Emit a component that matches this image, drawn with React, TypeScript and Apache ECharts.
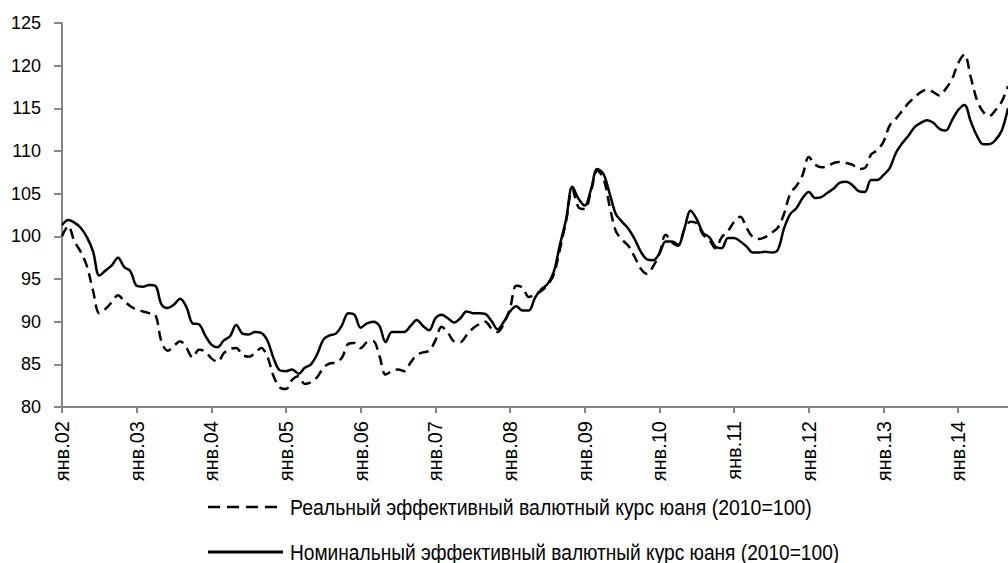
import React, { useEffect, useRef } from "react";
import * as echarts from "echarts";

const yearLabels = ["янв.02", "янв.03", "янв.04", "янв.05", "янв.06", "янв.07", "янв.08", "янв.09", "янв.10", "янв.11", "янв.12", "янв.13", "янв.14"];
const monthNames = ["янв", "фев", "мар", "апр", "май", "июн", "июл", "авг", "сен", "окт", "ноя", "дек"];

const realRate = [
  100.0, 101.2, 99.4, 98.2, 96.5, 93.6, 91.0, 91.5, 92.3, 93.1, 92.4, 91.8,
  91.4, 91.2, 91.0, 90.8, 87.6, 86.6, 87.2, 87.7, 86.9, 85.8, 86.7, 86.5,
  85.7, 85.3, 86.3, 86.8, 86.9, 86.1, 85.9, 86.3, 86.9, 85.9, 83.6, 82.3,
  82.1, 83.2, 83.6, 82.7, 82.9, 83.5, 84.6, 85.1, 85.2, 85.8, 87.4, 87.5,
  86.9, 87.6, 87.7, 86.0, 83.8, 84.2, 84.4, 84.2, 85.2, 86.1, 86.4, 86.6,
  87.8, 89.4, 88.7, 87.7, 87.6, 88.4, 89.2, 89.7, 90.0, 89.2, 88.8, 89.8,
  91.6, 94.2, 94.0, 92.9, 93.2, 93.6, 94.3, 95.5, 98.5, 101.8, 105.5, 103.4,
  103.2, 105.3, 107.7, 106.8, 103.5, 100.6, 99.6, 98.9, 97.6, 96.2, 95.6, 96.5,
  98.0, 100.2, 99.3, 98.9, 100.8, 101.7, 101.5, 100.2, 99.6, 98.6, 99.9, 100.6,
  101.7, 102.3, 101.0, 99.9, 99.7, 99.9, 100.4, 101.0, 102.6, 105.0, 105.9, 107.2,
  109.3, 108.4, 108.1, 108.2, 108.6, 108.7, 108.6, 108.4, 107.9, 108.0, 109.6, 110.1,
  111.1, 113.0, 113.8, 114.7, 115.6, 116.3, 116.9, 117.2, 116.9, 116.5, 117.3, 118.4,
  120.3, 121.3, 118.7, 116.0, 114.6, 114.1, 114.8, 115.8, 117.6
];

const nominalRate = [
  101.3, 101.9, 101.6, 101.0, 99.9, 98.2, 95.4, 96.0, 96.6, 97.5, 96.4, 95.9,
  94.2, 94.1, 94.3, 94.2, 92.0, 91.6, 92.0, 92.7, 91.7, 89.8, 89.7, 88.4,
  87.3, 87.0, 87.8, 88.3, 89.6, 88.6, 88.5, 88.8, 88.7, 87.8, 85.7, 84.3,
  84.2, 84.4, 83.9, 84.6, 85.0, 86.2, 87.9, 88.4, 88.6, 89.6, 91.0, 90.8,
  89.3, 89.8, 90.0, 89.5, 87.6, 88.8, 88.8, 88.8, 89.5, 90.2, 89.5, 89.0,
  90.4, 90.8, 90.4, 89.9, 90.4, 91.2, 91.0, 91.0, 90.9, 90.1, 89.1, 90.0,
  91.2, 91.8, 91.3, 91.3, 92.8, 93.8, 94.4, 95.8, 99.0, 102.0, 105.8, 104.4,
  103.6, 105.5, 107.9, 107.3, 105.0, 102.6, 101.7, 100.9, 99.7, 98.2, 97.3, 97.2,
  98.0, 99.4, 99.4, 99.0, 100.9, 103.0, 102.0, 100.4, 99.9, 98.8, 98.6, 99.8,
  99.8, 99.4, 98.8, 98.1, 98.1, 98.2, 98.1, 98.4, 100.9, 102.6, 103.3, 104.5,
  105.2, 104.5, 104.6, 105.1, 105.6, 106.3, 106.4, 106.0, 105.3, 105.2, 106.6, 106.6,
  107.2, 108.0, 109.8, 110.9, 111.8, 112.8, 113.3, 113.6, 113.3, 112.6, 112.4, 113.6,
  114.8, 115.4, 113.5, 111.8, 110.8, 110.8, 111.3, 112.4, 115.0
];

const realName = "Реальный эффективный валютный курс юаня (2010=100)";
const nominalName = "Номинальный эффективный валютный курс юаня (2010=100)";

const categories: string[] = [];
yearLabels.forEach((yl) => {
  const yy = yl.slice(-2);
  monthNames.forEach((m) => categories.push(m + "." + yy));
});
categories.length = realRate.length;

const FONT = "'Liberation Sans', Arial, sans-serif";

export default function App() {
  const ref = useRef<HTMLDivElement>(null);
  useEffect(() => {
    if (!ref.current) return;
    const chart = echarts.init(ref.current, null, { renderer: "svg" });
    chart.setOption({
      animation: false,
      backgroundColor: "#ffffff",
      grid: { left: 62, right: 0, top: 23, bottom: 156, containLabel: false },
      xAxis: {
        type: "category",
        data: categories,
        boundaryGap: false,
        axisLine: { lineStyle: { color: "#868686", width: 2 } },
        axisTick: {
          show: true,
          length: 6,
          interval: (idx: number) => idx % 12 === 0,
          lineStyle: { color: "#868686", width: 2 },
        },
        axisLabel: {
          interval: (idx: number) => idx % 12 === 0,
          rotate: 90,
          margin: 14,
          fontSize: 20,
          fontFamily: FONT,
          color: "#000",
        },
        splitLine: { show: false },
      },
      yAxis: {
        type: "value",
        min: 80,
        max: 125,
        interval: 5,
        axisLine: { show: true, lineStyle: { color: "#868686", width: 2 } },
        axisTick: { show: true, length: 8, lineStyle: { color: "#868686", width: 2 } },
        axisLabel: { margin: 21, fontSize: 18, fontFamily: FONT, color: "#000" },
        splitLine: { show: false },
      },
      series: [
        {
          name: realName,
          type: "line",
          data: realRate,
          smooth: 0.35,
          showSymbol: false,
          lineStyle: { color: "#000", width: 2.5, type: [10, 6] },
        },
        {
          name: nominalName,
          type: "line",
          data: nominalRate,
          smooth: 0.35,
          showSymbol: false,
          lineStyle: { color: "#000", width: 2.5 },
        },
      ],
      graphic: [
        {
          type: "line",
          shape: { x1: 208, y1: 507, x2: 283, y2: 507 },
          style: { stroke: "#000", lineWidth: 2.5, lineDash: [12, 7] },
        },
        {
          type: "text",
          x: 290,
          y: 507,
          scaleX: 0.885,
          style: { text: realName, fontSize: 22, fontFamily: FONT, fill: "#000", verticalAlign: "middle", align: "left" },
        },
        {
          type: "line",
          shape: { x1: 208, y1: 552, x2: 283, y2: 552 },
          style: { stroke: "#000", lineWidth: 3 },
        },
        {
          type: "text",
          x: 290,
          y: 552,
          scaleX: 0.87,
          style: { text: nominalName, fontSize: 22, fontFamily: FONT, fill: "#000", verticalAlign: "middle", align: "left" },
        },
      ],
    });
    return () => chart.dispose();
  }, []);
  return <div ref={ref} style={{ position: "absolute", left: 0, top: 0, width: 1008, height: 563 }} />;
}
